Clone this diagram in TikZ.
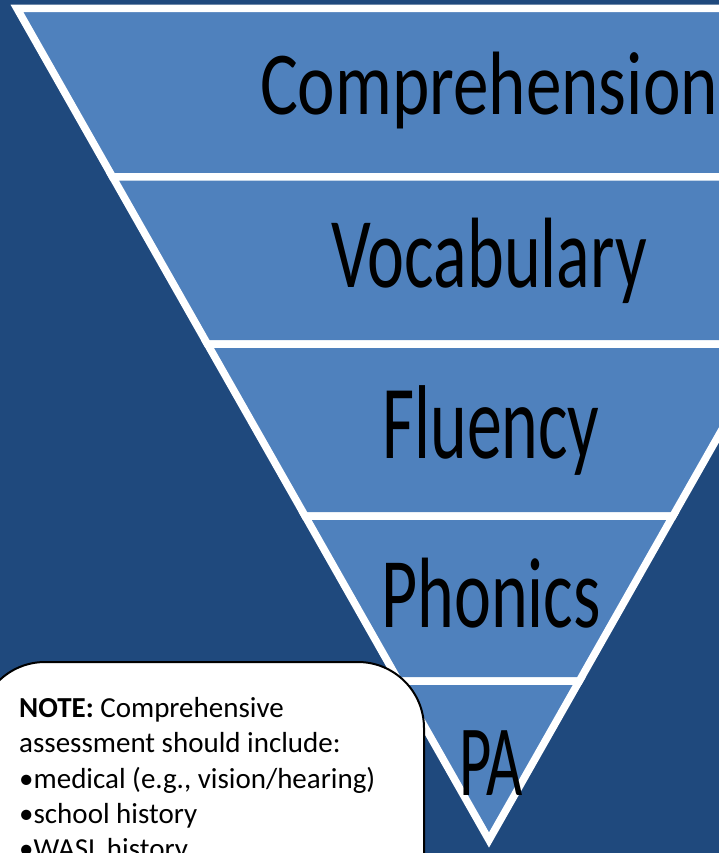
\documentclass[tikz,border=0pt]{standalone}
\usepackage{fontspec}
\setmainfont{Carlito}
\definecolor{bgblue}{HTML}{1F497D}
\definecolor{triblue}{HTML}{4F81BD}
\begin{document}
\begin{tikzpicture}[x=1pt,y=-1pt,
  band/.style={fill=triblue,draw=white,line width=7.5pt,line join=miter},
  lbl/.style={anchor=base,inner sep=0pt,text=black},
  notebox/.style={draw=black,line width=2pt,fill=white,rounded corners=66pt},
  notetxt/.style={anchor=base west,inner sep=0pt,text=black,font=\fontsize{29}{35}\selectfont}]
\useasboundingbox (0,0) rectangle (719,853);
\clip (0,0) rectangle (719,853);
\fill[bgblue] (0,0) rectangle (719,853);
% triangle edge points
\coordinate (L0) at (17,8.5);    \coordinate (R0) at (961,8.5);
\coordinate (L1) at (112.6,177); \coordinate (R1) at (865.4,177);
\coordinate (L2) at (207.4,344); \coordinate (R2) at (770.6,344);
\coordinate (L3) at (305.1,516); \coordinate (R3) at (672.9,516);
\coordinate (L4) at (398.7,681); \coordinate (R4) at (579.3,681);
\coordinate (AP) at (489,840);
% bands
\draw[band] (L0) -- (R0) -- (R1) -- (L1) -- cycle;
\draw[band] (L1) -- (R1) -- (R2) -- (L2) -- cycle;
\draw[band] (L2) -- (R2) -- (R3) -- (L3) -- cycle;
\draw[band] (L3) -- (R3) -- (R4) -- (L4) -- cycle;
\draw[band] (L4) -- (R4) -- (AP) -- cycle;
% labels
\node[lbl] (comp) at (489,115) {\scalebox{0.79}[1]{\fontsize{90}{90}\selectfont Comprehension}};
\node[lbl] (voc)  at (489,287) {\scalebox{0.70}[1]{\fontsize{100}{100}\selectfont Vocabulary}};
\node[lbl] (flu)  at (491,458) {\scalebox{0.665}[1]{\fontsize{105}{105}\selectfont Fluency}};
\node[lbl] (pho)  at (491,627) {\scalebox{0.70}[1]{\fontsize{100}{100}\selectfont Phonics}};
\node[lbl] (pa)   at (491,795) {\scalebox{0.62}[1]{\fontsize{101}{101}\selectfont PA}};
% note box
\draw[notebox] (-21,662) rectangle (424,980);
\node[notetxt] (n1) at (19,717) {\textbf{NOTE:} Comprehensive};
\node[notetxt] (n2) at (19,752) {assessment should include:};
\node[notetxt] (n3) at (19,788) {•medical (e.g., vision/hearing)};
\node[notetxt] (n4) at (19,823) {•school history};
\node[notetxt] (n5) at (19,858) {•WASL history};
\end{tikzpicture}
\end{document}
